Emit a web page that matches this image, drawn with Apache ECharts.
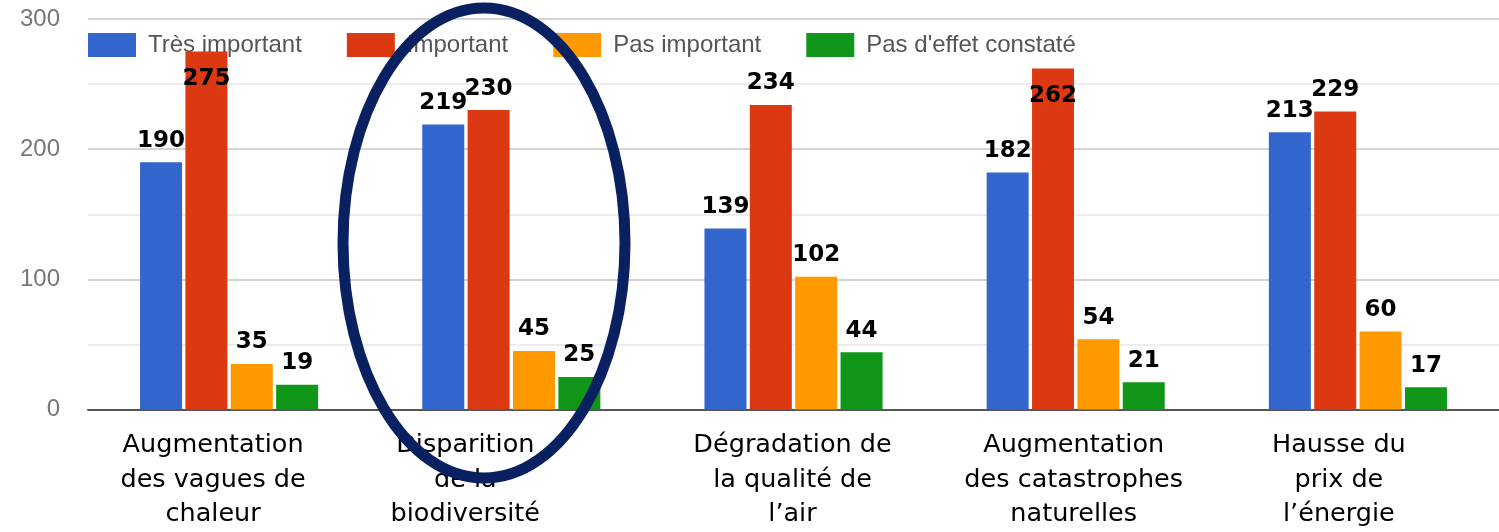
<!DOCTYPE html>
<html>
<head>
<meta charset="utf-8">
<script src="https://cdn.jsdelivr.net/npm/echarts@6/dist/echarts.min.js"></script>
<style>
html,body{margin:0;padding:0;background:#fff;}
#chart{width:1499px;height:532px;}
</style>
</head>
<body>
<div id="chart"></div>
<script>
var categories = [
    "Augmentation\ndes vagues de\nchaleur",
    "Disparition\nde la\nbiodiversité",
    "Dégradation de\nla qualité de\nl’air",
    "Augmentation\ndes catastrophes\nnaturelles",
    "Hausse du\nprix de\nl’énergie"
];
var seriesNames = ["Très important", "Important", "Pas important", "Pas d'effet constaté"];
var tresImportant = [190, 219, 139, 182, 213];
var important = [275, 230, 234, 262, 229];
var pasImportant = [35, 45, 102, 54, 60];
var pasEffet = [19, 25, 44, 21, 17];
var yTicks = [0, 100, 200, 300];

var colors = ['#3366cc', '#dc3912', '#ff9900', '#109618'];
// décalage à gauche des libellés de catégorie (px), comme sur l'original
var labelShift = [16, 46, 1, 2, 19];
var myChart = echarts.init(document.getElementById('chart'));

function makeSeries(name, values, idx){
    return {
        name: name,
        type: 'bar',
        barWidth: 42,
        barGap: '8%',
        itemStyle: {color: colors[idx]},
        data: values.map(function(v){
            var d = {value: v};
            // les étiquettes trop hautes passent dans la barre (sous la légende)
            if (v > 250) d.label = {position: 'insideTop', offset: [0, 6]};
            return d;
        }),
        label: {
            show: true,
            position: 'top',
            distance: 10,
            color: '#000',
            fontWeight: 'bold',
            fontSize: 23,
            fontFamily: 'DejaVu Sans'
        }
    };
}

var option = {
    backgroundColor: '#fff',
    animation: false,
    grid: {left: 88, width: 1422, top: 19, height: 393},
    legend: {
        left: 83,
        top: 28,
        itemWidth: 48,
        itemHeight: 24,
        itemGap: 45,
        icon: 'rect',
        textStyle: {color: '#555', fontSize: 24, fontFamily: 'Liberation Sans', padding: [0, 0, 0, 7]},
        data: seriesNames
    },
    xAxis: {
        type: 'category',
        data: categories.map(function(c, i){
            return {value: c, textStyle: {padding: [0, labelShift[i] * 2, 0, 0]}};
        }),
        axisTick: {show: false},
        axisLine: {lineStyle: {color: '#555', width: 2}},
        axisLabel: {
            color: '#000',
            fontSize: 25.5,
            lineHeight: 34.5,
            margin: 19,
            fontFamily: 'DejaVu Sans',
            interval: 0
        }
    },
    yAxis: {
        type: 'value',
        min: 0,
        max: 300,
        interval: 50,
        axisLine: {show: false},
        axisTick: {show: false},
        splitLine: {lineStyle: {color: ['#d4d4d4', '#ececec'], width: 2}},
        axisLabel: {
            color: '#777',
            fontSize: 24,
            margin: 28,
            fontFamily: 'Liberation Sans',
            formatter: function(v){ return yTicks.indexOf(v) >= 0 ? v : ''; }
        }
    },
    series: [
        makeSeries(seriesNames[0], tresImportant, 0),
        makeSeries(seriesNames[1], important, 1),
        makeSeries(seriesNames[2], pasImportant, 2),
        makeSeries(seriesNames[3], pasEffet, 3)
    ],
    graphic: [{
        type: 'ellipse',
        shape: {cx: 484, cy: 243, rx: 141, ry: 235},
        style: {fill: null, stroke: '#0a2161', lineWidth: 11},
        z: 100
    }]
};
myChart.setOption(option);
</script>
</body>
</html>
